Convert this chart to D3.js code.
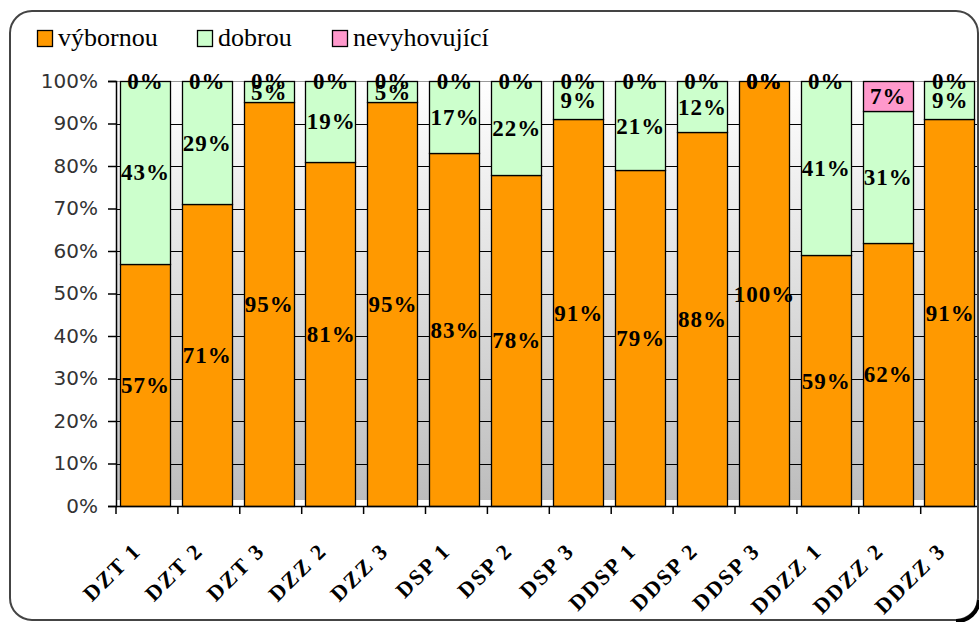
<!DOCTYPE html>
<html>
<head>
<meta charset="utf-8">
<script src="https://cdn.jsdelivr.net/npm/d3@7"></script>
<style>
body { margin: 0; background: #fff; }
svg { display: block; }
.serifText { font-family: 'Liberation Serif', 'Times New Roman', Times, serif; }
.sansText { font-family: 'DejaVu Sans', Verdana, sans-serif; }
</style>
</head>
<body>
<div id="chart"></div>
<script>

// categories and the three shares per category (in %)
const categories = ["DZT 1", "DZT 2", "DZT 3", "DZZ 2", "DZZ 3", "DSP 1", "DSP 2", "DSP 3", "DDSP 1", "DDSP 2", "DDSP 3", "DDZZ 1", "DDZZ 2", "DDZZ 3"]
const vybornou = [57, 71, 95, 81, 95, 83, 78, 91, 79, 88, 100, 59, 62, 91]
const dobrou = [43, 29, 5, 19, 5, 17, 22, 9, 21, 12, 0, 41, 31, 9]
const nevyhovujici = [0, 0, 0, 0, 0, 0, 0, 0, 0, 0, 0, 0, 7, 0]

const seriesNames = ["výbornou", "dobrou", "nevyhovující"]
const seriesColors = ["#FF9900", "#CCFFCC", "#FF99CC"]
const yTicks = [0, .1, .2, .3, .4, .5, .6, .7, .8, .9, 1]

const config = {
    top: 81,
    bottom: 506,
    left: 116,
    step: 61.9,
}

const width = 979
const height = 622

// table for d3.stack
const table = categories.map((c, i) => ({
    cat: c,
    "výbornou": vybornou[i] / 100,
    "dobrou": dobrou[i] / 100,
    "nevyhovující": nevyhovujici[i] / 100,
}))

const stacked = d3.stack().keys(seriesNames)(table)

const x = d3.scaleBand()
    .domain(categories)
    .range([config.left, config.left + config.step * categories.length])
    .paddingInner(0.2)
    .paddingOuter(0.1)
    .align(0.3)

const y = d3.scaleLinear().domain([0, 1]).range([config.bottom, config.top])

const svg = d3.select('#chart').append('svg').attr("width", width).attr("height", height)

// background gradient of the plot area
const grad = svg.append('defs').append('linearGradient')
    .attr("id", "plotBg")
    .attr("x1", 0).attr("y1", 0).attr("x2", 0).attr("y2", 1)
grad.append('stop').attr("offset", "0%").attr("stop-color", "#ffffff")
grad.append('stop').attr("offset", "98.6%").attr("stop-color", "#bdbdbd")
grad.append('stop').attr("offset", "98.6%").attr("stop-color", "#ffffff")
grad.append('stop').attr("offset", "100%").attr("stop-color", "#ffffff")

const plotRight = x.range()[1]

svg.append('rect')
    .attr("x", config.left)
    .attr("y", config.top)
    .attr("width", plotRight - config.left)
    .attr("height", config.bottom - config.top)
    .attr("fill", "url(#plotBg)")

// gridlines
svg.selectAll('.grid')
    .data(yTicks.filter(d => d > 0))
    .enter()
    .append('line')
    .attr("class", "grid")
    .attr("x1", config.left)
    .attr("x2", plotRight)
    .attr("y1", d => Math.round(y(d)) + 0.5)
    .attr("y2", d => Math.round(y(d)) + 0.5)
    .attr("stroke", d => d == 1 ? "#999" : "#000")
    .attr("stroke-width", 1)

// bars
stacked.forEach(function (layer, k) {
    svg.append('g')
        .selectAll('rect')
        .data(layer.filter(d => d[1] - d[0] > 0))
        .enter()
        .append('rect')
        .attr("x", d => Math.round(x(d.data.cat)) + 0.5)
        .attr("y", d => Math.round(y(d[1])) + 0.5)
        .attr("width", Math.round(x.bandwidth()))
        .attr("height", d => Math.round(y(d[0])) - Math.round(y(d[1])))
        .attr("fill", seriesColors[k])
        .attr("stroke", "#000")
        .attr("stroke-width", 1.3)
})

// value labels, drawn on top of every bar
stacked.forEach(function (layer) {
    svg.append('g')
        .selectAll('text')
        .data(layer)
        .enter()
        .append('text')
        .attr("class", "serifText")
        .attr("font-weight", "bold")
        .attr("font-size", 23)
        .attr("letter-spacing", 1)
        .attr("x", d => x(d.data.cat) + x.bandwidth() / 2 + 1)
        .attr("y", d => y((d[0] + d[1]) / 2))
        .attr("dy", "0.35em")
        .attr("text-anchor", "middle")
        .text(d => `${Math.round((d[1] - d[0]) * 100)}%`)
})

// y axis
const axisLeft = d3.axisLeft(y).tickValues(yTicks).tickFormat(d3.format(".0%")).tickSize(8).tickPadding(10)

svg.append('g')
    .attr("transform", `translate(${config.left},0)`)
    .call(axisLeft)
    .call(g => g.attr("font-family", null).attr("font-size", null))
    .call(g => g.selectAll("text").attr("class", "sansText").attr("font-size", 20).attr("fill", "#333"))
    .call(g => g.selectAll("line").attr("stroke", "#000").attr("stroke-width", 1.5))
    .call(g => g.select(".domain").attr("stroke", "#000").attr("stroke-width", 1.5))

// x axis line + ticks on category boundaries
svg.append('line')
    .attr("x1", config.left).attr("x2", plotRight)
    .attr("y1", config.bottom + 0.5).attr("y2", config.bottom + 0.5)
    .attr("stroke", "#000").attr("stroke-width", 1.5)

svg.selectAll('.xtick')
    .data(d3.range(categories.length + 1))
    .enter()
    .append('line')
    .attr("class", "xtick")
    .attr("x1", i => config.left + i * x.step())
    .attr("x2", i => config.left + i * x.step())
    .attr("y1", config.bottom)
    .attr("y2", config.bottom + 8)
    .attr("stroke", "#000")
    .attr("stroke-width", 1.5)

svg.selectAll('.catLabel')
    .data(categories)
    .enter()
    .append('text')
    .attr("class", "serifText")
    .attr("font-weight", "bold")
    .attr("font-size", 22)
    .attr("letter-spacing", 2)
    .attr("text-anchor", "end")
    .attr("transform", d => `translate(${x(d) + x.bandwidth() / 2 - 2},${config.bottom + 46}) rotate(-45)`)
    .text(d => d)

// legend
const legend = svg.append('g')
const legendX = [37, 197, 332]

seriesNames.forEach(function (name, i) {
    legend.append('rect')
        .attr("x", legendX[i] + 0.5)
        .attr("y", 30.5)
        .attr("width", 15)
        .attr("height", 16)
        .attr("fill", seriesColors[i])
        .attr("stroke", "#000")
        .attr("stroke-width", 1.3)
    legend.append('text')
        .attr("class", "serifText")
        .attr("font-size", 26)
        .attr("x", legendX[i] + 21)
        .attr("y", 46)
        .text(name)
})

// chart frame
svg.append('rect')
    .attr("x", 10)
    .attr("y", 11)
    .attr("width", 968)
    .attr("height", 609)
    .attr("rx", 22)
    .attr("fill", "none")
    .attr("stroke", "#444")
    .attr("stroke-width", 2)

svg.append('path')
    .attr("d", "M 956 621 A 22 22 0 0 0 979 600")
    .attr("fill", "none")
    .attr("stroke", "#000")
    .attr("stroke-width", 4)

</script>
</body>
</html>
